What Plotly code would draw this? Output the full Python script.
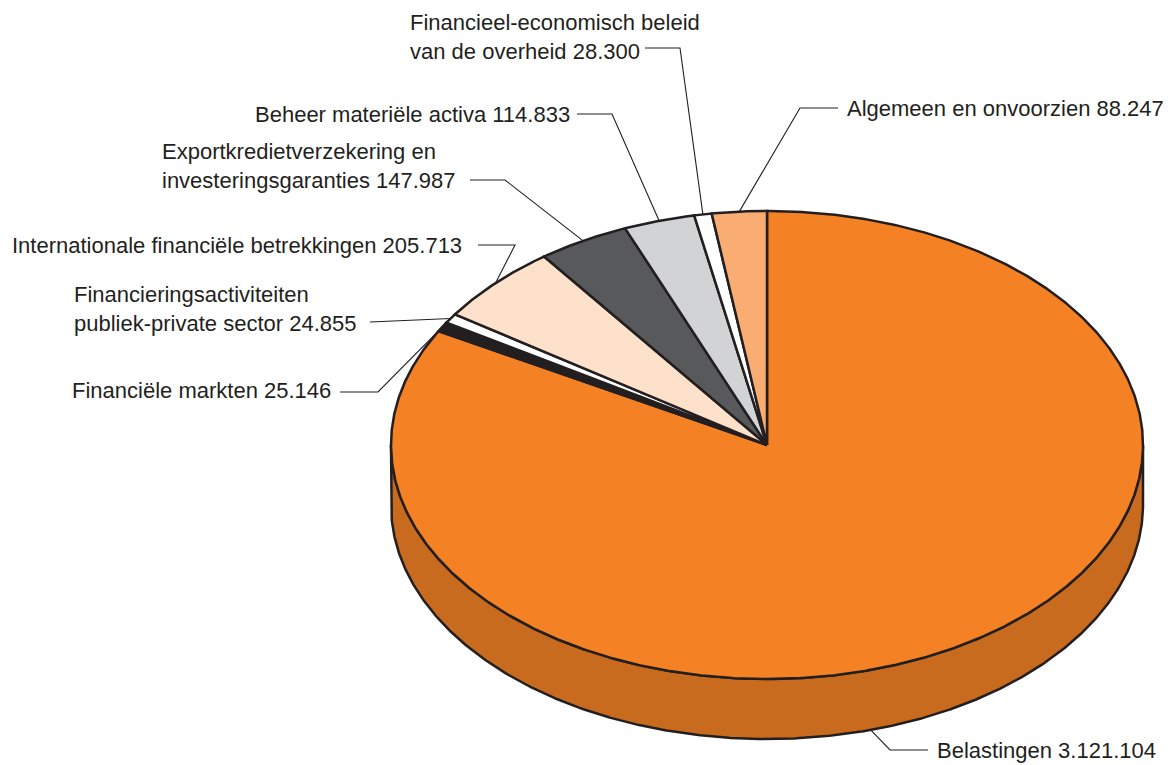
import numpy as np
import plotly.graph_objects as go

# ---- data ----
categories = [
    "Belastingen",
    "Financiële markten",
    "Financieringsactiviteiten<br>publiek-private sector",
    "Internationale financiële betrekkingen",
    "Exportkredietverzekering en<br>investeringsgaranties",
    "Beheer materiële activa",
    "Financieel-economisch beleid<br>van de overheid",
    "Algemeen en onvoorzien",
]
values = [3121104, 25146, 24855, 205713, 147987, 114833, 28300, 88247]

# ---- style ----
top_colors = ["#F48225", "#231F20", "#FFFFFF", "#FDE1CA", "#58595B", "#D1D3D4", "#FFFFFF", "#F9AD72"]
side_colors = ["#C96B1E", "#111111", "#DDDDDD", "#D9BFA9", "#3F4042", "#AFB1B2", "#DDDDDD", "#D58F5C"]
EDGE = "#231F20"
TEXT = "#231F20"
FONT = "Liberation Sans, Arial, Helvetica, sans-serif"

W, H = 1170, 765
CX, CY, RX, RY, DEPTH = 767, 445, 376, 234, 60


def pt(theta, dy=0.0):
    t = np.radians(theta)
    return CX + RX * np.sin(t), CY - RY * np.cos(t) + dy


total = float(sum(values))
bounds = np.concatenate([[0.0], np.cumsum(values) / total * 360.0])

fig = go.Figure()

# side walls (front half only: 90..270 degrees clockwise from top)
for i in range(len(values)):
    a0, a1 = bounds[i], bounds[i + 1]
    s0, s1 = max(a0, 90.0), min(a1, 270.0)
    if s1 <= s0:
        continue
    th = np.linspace(s0, s1, max(2, int((s1 - s0) * 3)))
    xt, yt = pt(th)
    xb, yb = pt(th[::-1], DEPTH)
    xs = np.concatenate([xt, xb, [xt[0]]])
    ys = np.concatenate([yt, yb, [yt[0]]])
    fig.add_trace(go.Scatter(x=xs, y=ys, mode="lines", fill="toself",
                             fillcolor=side_colors[i],
                             line=dict(color=EDGE, width=2.5),
                             hoverinfo="skip", showlegend=False))

# top wedges
for i in range(len(values)):
    a0, a1 = bounds[i], bounds[i + 1]
    th = np.linspace(a0, a1, max(2, int((a1 - a0) * 3)))
    xa, ya = pt(th)
    xs = np.concatenate([[CX], xa, [CX]])
    ys = np.concatenate([[CY], ya, [CY]])
    fig.add_trace(go.Scatter(x=xs, y=ys, mode="lines", fill="toself",
                             fillcolor=top_colors[i],
                             line=dict(color=EDGE, width=2.5),
                             hoverinfo="skip", showlegend=False))

# ---- labels and leader lines (layout) ----
# (text left x, text center y, line start x, elbow x, elbow y)
label_layout = [
    (935, 750, 928, 890, 750),   # Belastingen
    (70, 390, 340, 378, 392),    # Financiële markten
    (72, 309, 370, 410, 320),    # Financieringsactiviteiten
    (10, 245, 478, 515, 245),    # Internationale
    (160, 166, 470, 505, 180),   # Export
    (253, 114, 577, 612, 114),   # Beheer
    (408, 37, 645, 680, 48),     # Financieel-economisch
    (845, 108, 838, 800, 108),   # Algemeen
]
line_start_y = [750, 392, 322, 245, 180, 114, 48, 108]

for i, name in enumerate(categories):
    tx, ty, sx, ex, ey = label_layout[i]
    mid = (bounds[i] + bounds[i + 1]) / 2
    if i == 0:
        px, py = pt(164.0, DEPTH)
    else:
        px, py = pt(mid)
    fig.add_trace(go.Scatter(x=[sx, ex, px], y=[line_start_y[i], ey, py], mode="lines",
                             line=dict(color=EDGE, width=1.1),
                             hoverinfo="skip", showlegend=False))
    val = f"{values[i]:,}".replace(",", ".")
    fig.add_annotation(x=tx, y=ty, xref="x", yref="y", text=f"{name} {val}",
                       showarrow=False, xanchor="left", yanchor="middle", align="left",
                       font=dict(family=FONT, size=22, color=TEXT))

fig.update_layout(
    width=W, height=H, autosize=False,
    margin=dict(l=0, r=0, t=0, b=0),
    paper_bgcolor="white", plot_bgcolor="white",
    xaxis=dict(range=[0, W], visible=False, fixedrange=True),
    yaxis=dict(range=[H, 0], visible=False, fixedrange=True),
    showlegend=False,
)

fig.write_html("out.html", config={"displayModeBar": False},
               post_script="document.body.style.margin='0';")
